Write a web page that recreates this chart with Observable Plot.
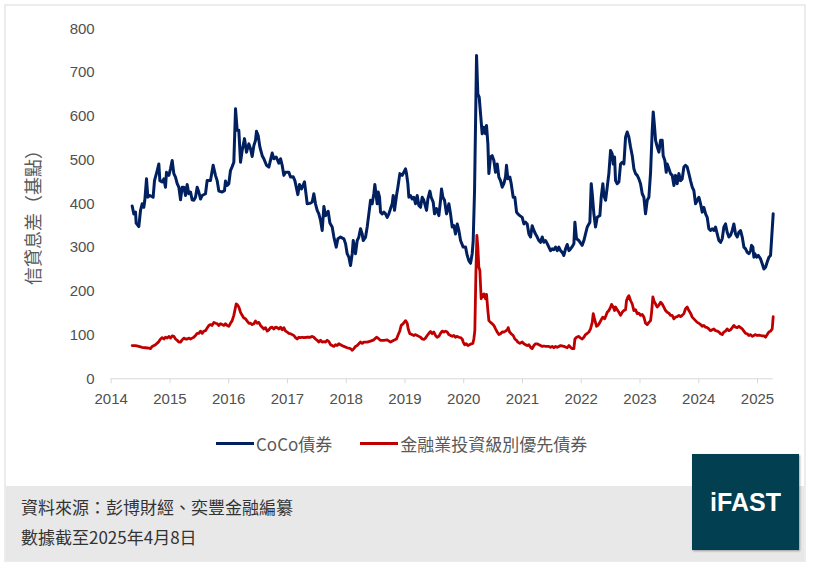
<!DOCTYPE html>
<html>
<head>
<meta charset="utf-8">
<script src="https://cdn.jsdelivr.net/npm/d3@7"></script>
<script src="https://cdn.jsdelivr.net/npm/@observablehq/plot@0.6"></script>
<style>
html,body{margin:0;padding:0;background:#fff;}
#page{position:relative;width:814px;height:568px;overflow:hidden;font-family:"Noto Sans CJK TC","Liberation Sans",sans-serif;}
#frame{position:absolute;left:4px;top:4px;width:798px;height:554px;border:2px solid #ececec;}
#chart{position:absolute;left:0;top:0;}
#footer{position:absolute;left:6px;top:486px;width:798px;height:75px;background:#e8e8e8;}
.foot{position:absolute;left:21px;font-size:17px;line-height:24px;color:#333;white-space:nowrap;}
#legend{position:absolute;left:216px;top:431px;height:24px;display:flex;align-items:center;font-size:17px;color:#595959;white-space:nowrap;}
.sw{display:inline-block;width:38px;height:3px;margin-right:2px;}
.item{display:flex;align-items:center;}
#logo{position:absolute;left:692px;top:454px;width:107px;height:96px;background:#023f51;box-shadow:1px 1px 2px rgba(0,0,0,0.35);display:flex;align-items:center;justify-content:center;color:#fff;font-family:"Liberation Sans",Arial,sans-serif;font-weight:bold;font-size:25px;}
</style>
</head>
<body>
<div id="page">
  <div id="frame"></div>
  <div id="footer"></div>
  <div id="chart"></div>
  <div id="legend"></div>
  <div class="foot" id="src" style="top:495px"></div>
  <div class="foot" id="asof" style="top:525px"></div>
  <div id="logo">iFAST</div>
</div>
<script>
// ---- data (decimal year, spread in bps) ----
const seriesNames = ["CoCo債券", "金融業投資級別優先債券"];
const seriesColors = ["#002060", "#c00000"];
const yAxisTitle = "信貸息差（基點）";
const sourceText = "資料來源：彭博財經、奕豐金融編纂";
const asOfText = "數據截至2025年4月8日";
const yearTicks = [2014,2015,2016,2017,2018,2019,2020,2021,2022,2023,2024,2025];
const spreadTicks = [0,100,200,300,400,500,600,700,800];

const cocoSeries = [
[2014.357,395],[2014.385,377],[2014.414,381],[2014.425,356],[2014.470,348],[2014.499,385],[2014.527,400],[2014.555,392],[2014.572,408],[2014.601,457],[2014.624,415],[2014.658,419],[2014.714,415],[2014.737,453],[2014.783,476],[2014.811,491],[2014.828,453],[2014.867,450],[2014.896,457],[2014.924,438],[2014.941,472],[2014.981,465],
[2015.009,480],[2015.038,499],[2015.066,469],[2015.094,461],[2015.123,446],[2015.151,438],[2015.180,409],[2015.208,438],[2015.236,438],[2015.265,419],[2015.293,444],[2015.321,423],[2015.350,427],[2015.378,409],[2015.406,408],[2015.435,415],[2015.463,438],[2015.491,427],[2015.520,411],[2015.548,419],[2015.605,423],[2015.633,453],[2015.690,453],[2015.735,488],[2015.775,465],[2015.803,453],[2015.832,429],[2015.889,427],[2015.928,430],[2015.945,452],[2015.974,442],
[2016.002,446],[2016.030,476],[2016.059,485],[2016.087,495],[2016.116,617],[2016.144,568],[2016.172,568],[2016.201,495],[2016.229,522],[2016.269,549],[2016.303,518],[2016.343,537],[2016.371,526],[2016.399,508],[2016.428,533],[2016.456,545],[2016.473,566],[2016.501,556],[2016.530,530],[2016.570,510],[2016.598,503],[2016.643,488],[2016.683,484],[2016.740,516],[2016.768,503],[2016.808,507],[2016.853,493],[2016.882,503],[2016.910,488],[2016.938,465],[2016.967,472],
[2017.023,472],[2017.052,461],[2017.097,462],[2017.126,453],[2017.177,421],[2017.205,444],[2017.239,434],[2017.290,450],[2017.336,400],[2017.381,401],[2017.421,404],[2017.449,423],[2017.477,400],[2017.506,385],[2017.534,377],[2017.563,362],[2017.591,339],[2017.620,394],[2017.648,373],[2017.693,383],[2017.722,356],[2017.761,347],[2017.790,324],[2017.830,301],[2017.858,320],[2017.903,324],[2017.960,320],[2017.988,309],
[2018.016,286],[2018.045,278],[2018.073,259],[2018.102,286],[2018.119,316],[2018.141,301],[2018.158,286],[2018.187,316],[2018.215,324],[2018.243,343],[2018.272,331],[2018.289,316],[2018.329,324],[2018.357,347],[2018.385,377],[2018.414,408],[2018.442,400],[2018.470,423],[2018.487,444],[2018.510,419],[2018.527,400],[2018.544,427],[2018.567,415],[2018.584,381],[2018.612,377],[2018.641,381],[2018.669,377],[2018.697,369],[2018.726,377],[2018.754,389],[2018.783,400],[2018.800,419],[2018.822,385],[2018.856,419],[2018.879,438],[2018.913,469],[2018.953,465],[2018.981,472],
[2019.009,480],[2019.026,469],[2019.049,446],[2019.066,415],[2019.094,419],[2019.123,411],[2019.151,415],[2019.180,400],[2019.208,419],[2019.236,396],[2019.265,392],[2019.293,415],[2019.321,408],[2019.367,385],[2019.390,411],[2019.424,429],[2019.446,415],[2019.480,404],[2019.503,377],[2019.537,389],[2019.577,373],[2019.605,408],[2019.622,434],[2019.645,415],[2019.673,408],[2019.707,377],[2019.747,400],[2019.775,377],[2019.804,347],[2019.832,350],[2019.860,331],[2019.889,354],[2019.917,339],[2019.946,316],[2019.991,301],
[2020.031,301],[2020.059,282],[2020.087,270],[2020.116,264],[2020.144,286],[2020.161,316],[2020.184,430],[2020.201,583],[2020.218,739],[2020.240,651],[2020.263,644],[2020.286,606],[2020.314,560],[2020.343,575],[2020.371,560],[2020.388,579],[2020.411,537],[2020.428,469],[2020.456,507],[2020.484,510],[2020.513,499],[2020.541,472],[2020.570,491],[2020.598,461],[2020.626,453],[2020.655,438],[2020.683,446],[2020.711,461],[2020.728,488],[2020.751,457],[2020.785,461],[2020.808,446],[2020.842,415],[2020.870,415],[2020.899,381],[2020.921,377],[2020.955,373],[2020.995,369],
[2021.024,354],[2021.052,358],[2021.080,354],[2021.109,331],[2021.137,324],[2021.165,350],[2021.194,339],[2021.222,331],[2021.251,324],[2021.279,316],[2021.307,312],[2021.336,324],[2021.364,312],[2021.392,316],[2021.421,309],[2021.449,301],[2021.477,293],[2021.506,297],[2021.534,295],[2021.563,301],[2021.591,293],[2021.619,301],[2021.648,293],[2021.676,289],[2021.704,282],[2021.733,297],[2021.761,307],[2021.790,293],[2021.818,297],[2021.846,302],[2021.875,309],[2021.892,358],[2021.920,320],[2021.960,316],
[2022.016,305],[2022.045,316],[2022.073,331],[2022.102,347],[2022.147,358],[2022.170,446],[2022.187,423],[2022.215,377],[2022.243,347],[2022.272,369],[2022.317,373],[2022.340,415],[2022.368,446],[2022.385,419],[2022.414,408],[2022.442,438],[2022.470,469],[2022.499,522],[2022.527,514],[2022.544,491],[2022.567,507],[2022.584,453],[2022.612,446],[2022.641,450],[2022.669,491],[2022.697,495],[2022.726,491],[2022.754,552],[2022.782,564],[2022.811,552],[2022.839,530],[2022.868,510],[2022.896,480],[2022.924,469],[2022.953,465],[2022.981,457],
[2023.009,446],[2023.038,423],[2023.066,415],[2023.094,377],[2023.123,408],[2023.151,415],[2023.180,472],[2023.208,568],[2023.225,610],[2023.248,575],[2023.265,545],[2023.293,530],[2023.321,518],[2023.350,545],[2023.378,545],[2023.395,510],[2023.423,499],[2023.446,472],[2023.463,491],[2023.492,480],[2023.520,469],[2023.548,465],[2023.577,442],[2023.605,465],[2023.633,446],[2023.662,469],[2023.690,453],[2023.718,457],[2023.747,484],[2023.775,488],[2023.804,484],[2023.832,469],[2023.860,453],[2023.889,438],[2023.917,430],[2023.945,400],[2023.974,408],
[2024.002,415],[2024.031,400],[2024.059,381],[2024.087,392],[2024.116,377],[2024.144,369],[2024.172,343],[2024.201,339],[2024.229,343],[2024.258,339],[2024.286,347],[2024.314,331],[2024.343,316],[2024.371,312],[2024.399,320],[2024.428,347],[2024.456,354],[2024.484,335],[2024.513,324],[2024.541,328],[2024.570,339],[2024.598,354],[2024.626,331],[2024.655,324],[2024.683,335],[2024.711,339],[2024.740,324],[2024.768,301],[2024.797,297],[2024.825,289],[2024.853,286],[2024.882,293],[2024.899,305],[2024.921,301],[2024.938,278],[2024.955,286],[2024.984,278],
[2025.012,282],[2025.052,274],[2025.080,263],[2025.109,251],[2025.137,255],[2025.165,267],[2025.194,278],[2025.222,282],[2025.267,377]
];

const seniorSeries = [
[2014.357,76],[2014.414,76],[2014.470,74],[2014.527,72],[2014.584,71],[2014.641,70],[2014.669,69],[2014.697,74],[2014.754,78],[2014.811,85],[2014.839,91],[2014.867,94],[2014.896,91],[2014.924,95],[2014.953,93],[2014.981,97],
[2015.009,93],[2015.038,98],[2015.066,97],[2015.094,91],[2015.123,88],[2015.151,84],[2015.180,84],[2015.208,89],[2015.236,93],[2015.265,91],[2015.293,91],[2015.321,93],[2015.350,91],[2015.378,93],[2015.406,95],[2015.435,99],[2015.463,104],[2015.491,104],[2015.520,109],[2015.548,104],[2015.577,109],[2015.605,110],[2015.633,116],[2015.662,122],[2015.690,124],[2015.718,122],[2015.747,129],[2015.775,127],[2015.803,126],[2015.832,122],[2015.860,126],[2015.889,124],[2015.917,122],[2015.945,126],[2015.974,122],
[2016.002,120],[2016.030,127],[2016.059,133],[2016.087,145],[2016.104,156],[2016.127,171],[2016.144,170],[2016.172,164],[2016.201,152],[2016.229,145],[2016.257,139],[2016.286,137],[2016.314,132],[2016.343,127],[2016.371,127],[2016.399,124],[2016.428,126],[2016.456,132],[2016.484,127],[2016.513,129],[2016.541,122],[2016.570,118],[2016.598,114],[2016.626,117],[2016.655,109],[2016.683,112],[2016.711,117],[2016.740,118],[2016.768,114],[2016.797,118],[2016.825,117],[2016.853,114],[2016.882,118],[2016.910,112],[2016.938,117],[2016.967,109],[2016.995,107],
[2017.023,104],[2017.052,103],[2017.080,101],[2017.109,99],[2017.137,94],[2017.165,91],[2017.194,95],[2017.222,94],[2017.251,95],[2017.279,94],[2017.336,95],[2017.392,95],[2017.421,97],[2017.449,95],[2017.477,91],[2017.506,88],[2017.534,84],[2017.563,88],[2017.591,84],[2017.620,85],[2017.648,84],[2017.676,88],[2017.705,85],[2017.733,78],[2017.761,76],[2017.790,74],[2017.818,78],[2017.846,76],[2017.875,80],[2017.903,78],[2017.960,74],
[2018.016,71],[2018.073,69],[2018.102,65],[2018.130,69],[2018.158,74],[2018.187,76],[2018.243,84],[2018.272,81],[2018.300,84],[2018.357,84],[2018.414,86],[2018.470,89],[2018.516,95],[2018.556,91],[2018.584,88],[2018.641,88],[2018.697,89],[2018.754,84],[2018.811,88],[2018.856,91],[2018.879,99],[2018.913,110],[2018.936,122],[2018.970,126],
[2019.009,133],[2019.038,127],[2019.055,114],[2019.083,103],[2019.123,101],[2019.151,99],[2019.180,101],[2019.208,99],[2019.236,97],[2019.265,95],[2019.293,91],[2019.321,90],[2019.350,93],[2019.378,99],[2019.407,104],[2019.435,108],[2019.463,103],[2019.491,107],[2019.520,99],[2019.548,95],[2019.577,97],[2019.605,104],[2019.633,109],[2019.662,107],[2019.690,109],[2019.718,107],[2019.747,101],[2019.775,99],[2019.804,97],[2019.832,99],[2019.860,95],[2019.889,97],[2019.917,95],[2019.946,94],[2019.974,91],[2019.991,84],
[2020.014,78],[2020.042,80],[2020.070,76],[2020.099,78],[2020.127,80],[2020.155,81],[2020.172,91],[2020.189,110],[2020.207,240],[2020.224,328],[2020.240,301],[2020.257,255],[2020.274,248],[2020.297,183],[2020.320,190],[2020.343,194],[2020.371,183],[2020.388,193],[2020.411,156],[2020.428,133],[2020.456,129],[2020.484,126],[2020.513,122],[2020.541,114],[2020.570,107],[2020.598,101],[2020.626,103],[2020.655,107],[2020.683,107],[2020.711,109],[2020.740,112],[2020.757,117],[2020.780,107],[2020.808,103],[2020.842,99],[2020.870,91],[2020.899,88],[2020.921,84],[2020.955,81],[2020.995,84],
[2021.024,80],[2021.052,78],[2021.080,76],[2021.109,78],[2021.137,72],[2021.165,69],[2021.194,76],[2021.222,80],[2021.251,80],[2021.279,78],[2021.307,76],[2021.336,74],[2021.364,75],[2021.392,74],[2021.421,74],[2021.449,74],[2021.477,72],[2021.506,74],[2021.534,71],[2021.563,74],[2021.591,72],[2021.619,74],[2021.648,76],[2021.704,74],[2021.761,71],[2021.790,76],[2021.818,72],[2021.846,69],[2021.875,69],[2021.892,91],[2021.920,95],[2021.960,97],[2021.988,93],
[2022.016,91],[2022.045,95],[2022.073,101],[2022.102,104],[2022.130,107],[2022.158,114],[2022.187,129],[2022.204,149],[2022.226,137],[2022.260,120],[2022.283,122],[2022.317,129],[2022.340,135],[2022.368,141],[2022.397,137],[2022.414,142],[2022.442,152],[2022.470,156],[2022.499,164],[2022.516,170],[2022.544,164],[2022.567,156],[2022.584,164],[2022.612,158],[2022.641,152],[2022.669,145],[2022.697,152],[2022.726,156],[2022.754,158],[2022.771,179],[2022.794,187],[2022.811,190],[2022.839,179],[2022.868,171],[2022.896,156],[2022.924,158],[2022.953,149],[2022.981,150],
[2023.009,145],[2023.038,147],[2023.066,141],[2023.094,127],[2023.123,124],[2023.151,129],[2023.180,133],[2023.197,152],[2023.219,187],[2023.236,179],[2023.265,171],[2023.293,164],[2023.321,168],[2023.350,175],[2023.378,171],[2023.406,164],[2023.435,156],[2023.463,152],[2023.492,150],[2023.520,145],[2023.548,145],[2023.577,137],[2023.605,141],[2023.633,142],[2023.662,145],[2023.690,142],[2023.718,145],[2023.747,149],[2023.775,160],[2023.804,164],[2023.832,156],[2023.860,150],[2023.889,141],[2023.917,137],[2023.945,133],[2023.974,129],
[2024.002,127],[2024.031,124],[2024.059,120],[2024.087,122],[2024.116,118],[2024.144,117],[2024.172,114],[2024.201,110],[2024.229,112],[2024.258,114],[2024.286,110],[2024.314,109],[2024.343,107],[2024.371,103],[2024.399,101],[2024.428,107],[2024.456,109],[2024.484,114],[2024.513,110],[2024.541,112],[2024.570,117],[2024.598,122],[2024.626,118],[2024.655,117],[2024.683,120],[2024.711,117],[2024.740,114],[2024.768,109],[2024.797,104],[2024.825,103],[2024.853,99],[2024.882,101],[2024.910,97],[2024.938,99],[2024.967,101],[2024.995,99],
[2025.024,100],[2025.052,99],[2025.080,98],[2025.109,98],[2025.137,95],[2025.165,101],[2025.194,107],[2025.222,109],[2025.250,114],[2025.267,142]
];

const dataEnd = 2025.267; // 2025-04-08

// ---- build table ----
const rows = [
  ...cocoSeries.map(([x, y]) => ({x, y, s: seriesNames[0]})),
  ...seniorSeries.map(([x, y]) => ({x, y, s: seriesNames[1]}))
];

const plot = Plot.plot({
  width: 814,
  height: 420,
  marginLeft: 110.7,
  marginRight: 41.3,
  marginTop: 28.3,
  marginBottom: 41.7,
  style: {fontFamily: "Liberation Sans, Arial, sans-serif", fontSize: "15px", background: "transparent"},
  x: {type: "linear", domain: [yearTicks[0], dataEnd]},
  y: {domain: [spreadTicks[0], spreadTicks[spreadTicks.length - 1]]},
  color: {domain: seriesNames, range: seriesColors},
  marks: [
    Plot.axisY({ticks: spreadTicks, tickSize: 0, tickPadding: 16.5, label: null, fill: "#505050", fontSize: 15}),
    Plot.axisX({ticks: yearTicks, tickSize: 5, tickPadding: 10, label: null, stroke: "#d9d9d9", fill: "#505050", fontSize: 15, tickFormat: d => String(d)}),
    Plot.ruleY([0], {stroke: "#d9d9d9", strokeWidth: 1}),
    Plot.line(rows.filter(d => d.s === seriesNames[1]), {x: "x", y: "y", stroke: "s", strokeWidth: 2.8}),
    Plot.line(rows.filter(d => d.s === seriesNames[0]), {x: "x", y: "y", stroke: "s", strokeWidth: 3})
  ]
});

// y-axis title
d3.select(plot).append("text")
  .attr("transform", "translate(32,213) rotate(-90)")
  .attr("text-anchor", "middle")
  .attr("dominant-baseline", "central")
  .attr("fill", "#595959")
  .style("font-family", "'Noto Sans CJK TC', sans-serif")
  .style("font-size", "18px")
  .text(yAxisTitle);

document.getElementById("chart").appendChild(plot);

// legend
const legend = d3.select("#legend");
seriesNames.forEach((name, i) => {
  const item = legend.append("div").attr("class", "item").style("margin-left", i ? "28px" : "0px");
  item.append("span").attr("class", "sw").style("background", seriesColors[i]);
  item.append("span").text(name);
});

document.getElementById("src").textContent = sourceText;
document.getElementById("asof").textContent = asOfText;
</script>
</body>
</html>
